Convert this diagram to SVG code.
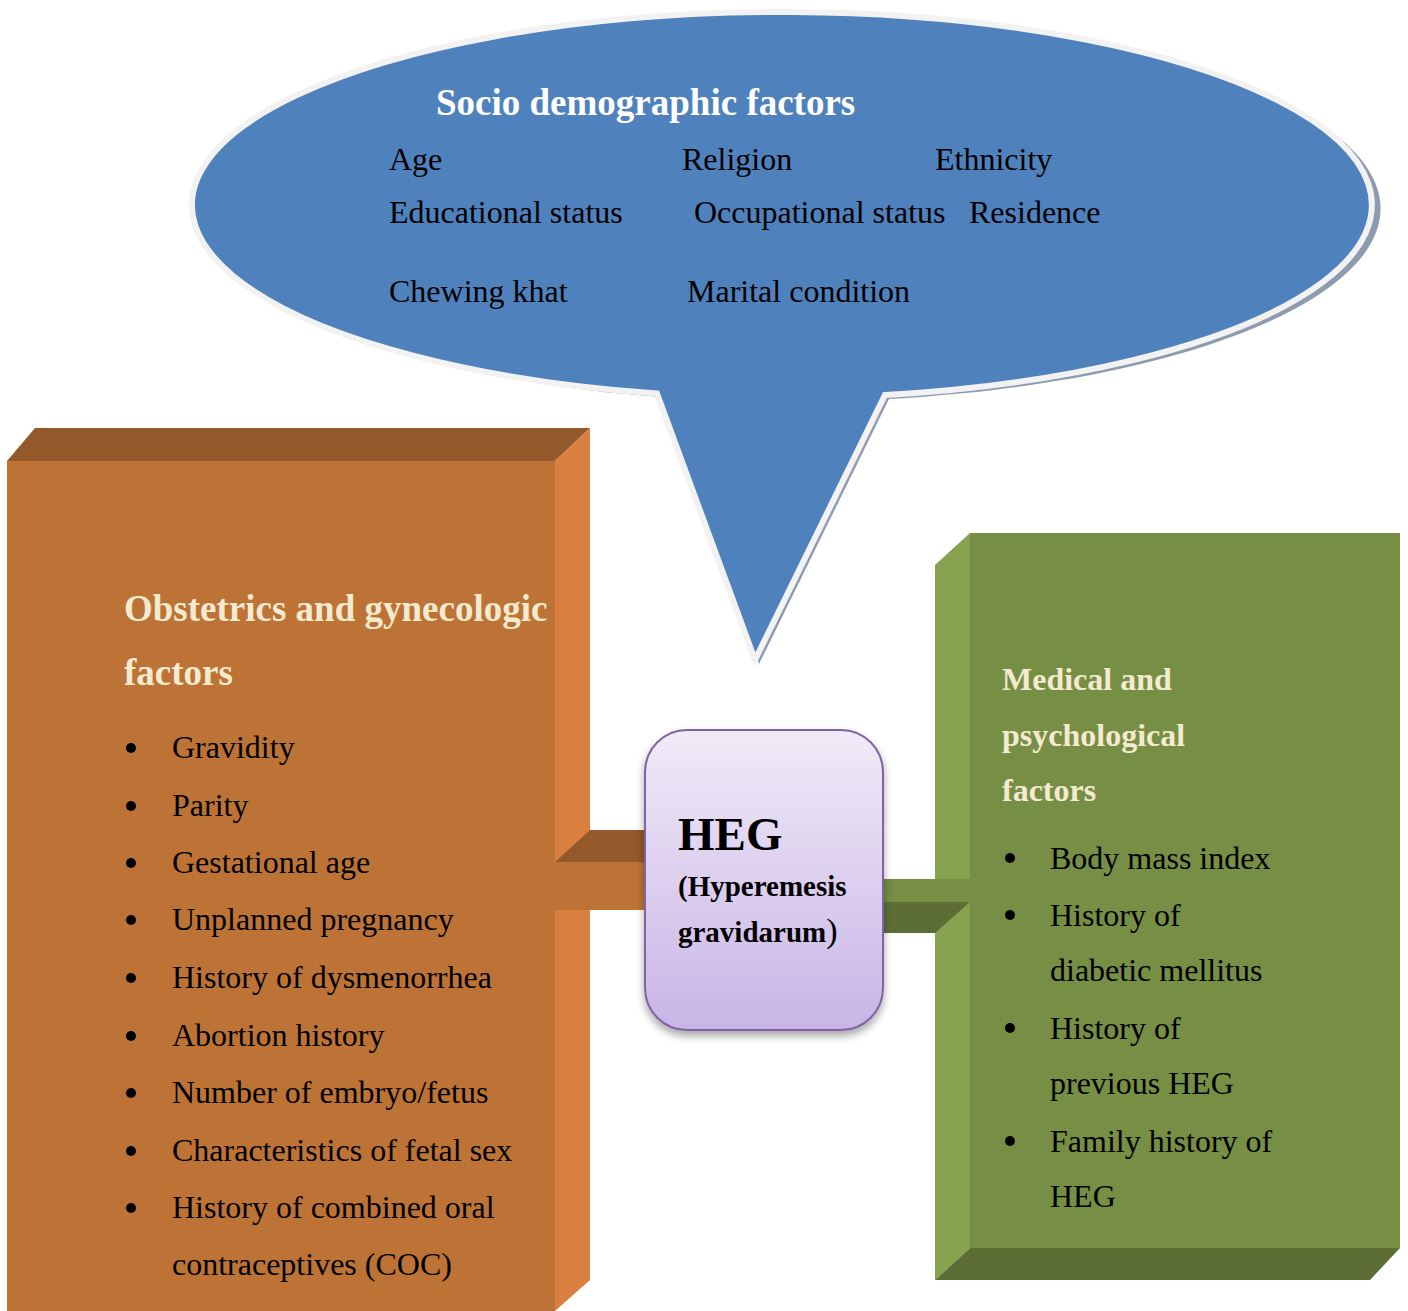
<svg xmlns="http://www.w3.org/2000/svg" width="1408" height="1311" viewBox="0 0 1408 1311">
<defs>
<style>
.t{font-family:"Liberation Serif","Times New Roman",serif;font-size:32px;fill:#000}
.hd{font-family:"Liberation Serif","Times New Roman",serif;font-weight:bold;fill:#F4EAD0}
.b{fill:#000}
</style>
<linearGradient id="heg" x1="0" y1="0" x2="0" y2="1">
<stop offset="0" stop-color="#F0EBF8"/>
<stop offset="1" stop-color="#C9B4E6"/>
</linearGradient>
<filter id="sh" x="-20%" y="-20%" width="140%" height="140%">
<feDropShadow dx="0" dy="5" stdDeviation="4" flood-color="#000" flood-opacity="0.35"/>
</filter>
</defs>
<rect width="1408" height="1311" fill="#fff"/>

<g id="socio">
<path d="M661,397 A590 193 0 1 1 889 399 L759 664 Z" fill="#8E9BAE"/>
<path d="M657,393.6 A590 193 0 1 1 885 395 L755 660 Z" fill="#4F81BD" stroke="#F2F2F2" stroke-width="6" stroke-linejoin="miter"/>
<text x="436" y="115" class="hd" style="font-size:37px;fill:#fff">Socio demographic factors</text>
<text class="t" x="389" y="170">Age</text>
<text class="t" x="682" y="170">Religion</text>
<text class="t" x="935" y="170">Ethnicity</text>
<text class="t" x="389" y="223">Educational status</text>
<text class="t" x="694" y="223">Occupational status</text>
<text class="t" x="969" y="223">Residence</text>
<text class="t" x="389" y="302">Chewing khat</text>
<text class="t" x="687" y="302">Marital condition</text>
</g>

<g id="obstetric">
<polygon points="7,461 35,428 590,428 555,461" fill="#93592A"/>
<polygon points="555,461 590,428 590,1280 555,1311" fill="#D98040"/>
<rect x="7" y="461" width="548" height="850" fill="#BD7335"/>
<text class="hd" x="124" y="621" style="font-size:37px">Obstetrics and gynecologic</text>
<text class="hd" x="124" y="685" style="font-size:37px">factors</text>
<g class="b">
<circle cx="131" cy="748" r="5"/><circle cx="131" cy="806" r="5"/><circle cx="131" cy="863" r="5"/>
<circle cx="131" cy="920" r="5"/><circle cx="131" cy="978" r="5"/><circle cx="131" cy="1036" r="5"/>
<circle cx="131" cy="1093" r="5"/><circle cx="131" cy="1151" r="5"/><circle cx="131" cy="1208" r="5"/>
</g>
<text class="t" x="172" y="758">Gravidity</text>
<text class="t" x="172" y="816">Parity</text>
<text class="t" x="172" y="873">Gestational age</text>
<text class="t" x="172" y="930">Unplanned pregnancy</text>
<text class="t" x="172" y="988">History of dysmenorrhea</text>
<text class="t" x="172" y="1046">Abortion history</text>
<text class="t" x="172" y="1103">Number of embryo/fetus</text>
<text class="t" x="172" y="1161">Characteristics of fetal sex</text>
<text class="t" x="172" y="1218">History of combined oral</text>
<text class="t" x="172" y="1275">contraceptives (COC)</text>
</g>

<g id="medical">
<polygon points="935,565 970,533 970,1248 935,1280" fill="#87A34F"/>
<polygon points="935,1280 970,1248 1400,1248 1370,1280" fill="#5D6E34"/>
<rect x="970" y="533" width="430" height="715" fill="#778E45"/>
<text class="hd" x="1002" y="690" style="font-size:32px">Medical and</text>
<text class="hd" x="1002" y="746" style="font-size:32px">psychological</text>
<text class="hd" x="1002" y="801" style="font-size:32px">factors</text>
<g class="b">
<circle cx="1010" cy="858" r="5"/><circle cx="1010" cy="915" r="5"/><circle cx="1010" cy="1028" r="5"/><circle cx="1010" cy="1141" r="5"/>
</g>
<text class="t" x="1050" y="869">Body mass index</text>
<text class="t" x="1050" y="926">History of</text>
<text class="t" x="1050" y="981">diabetic mellitus</text>
<text class="t" x="1050" y="1039">History of</text>
<text class="t" x="1050" y="1094">previous HEG</text>
<text class="t" x="1050" y="1152">Family history of</text>
<text class="t" x="1050" y="1207">HEG</text>
</g>

<g id="connectors">
<polygon points="555,862 590,830 645,830 645,862" fill="#93592A"/>
<rect x="555" y="862" width="90" height="48" fill="#BD7335"/>
<rect x="883" y="879" width="87" height="23" fill="#778E45"/>
<polygon points="883,902 970,902 935,933 883,933" fill="#5D6E34"/>
</g>

<g id="heg">
<rect x="645" y="730" width="238" height="300" rx="42" ry="42" fill="url(#heg)" stroke="#8064A2" stroke-width="2" filter="url(#sh)"/>
<text x="678" y="850" style="font-family:'Liberation Serif',serif;font-weight:bold;font-size:47px">HEG</text>
<text x="678" y="896" style="font-family:'Liberation Serif',serif;font-weight:bold;font-size:29px">(Hyperemesis</text>
<text x="678" y="942" style="font-family:'Liberation Serif',serif;font-weight:bold;font-size:29px">gravidarum<tspan style="font-weight:normal;font-size:34px">)</tspan></text>
</g>
</svg>
